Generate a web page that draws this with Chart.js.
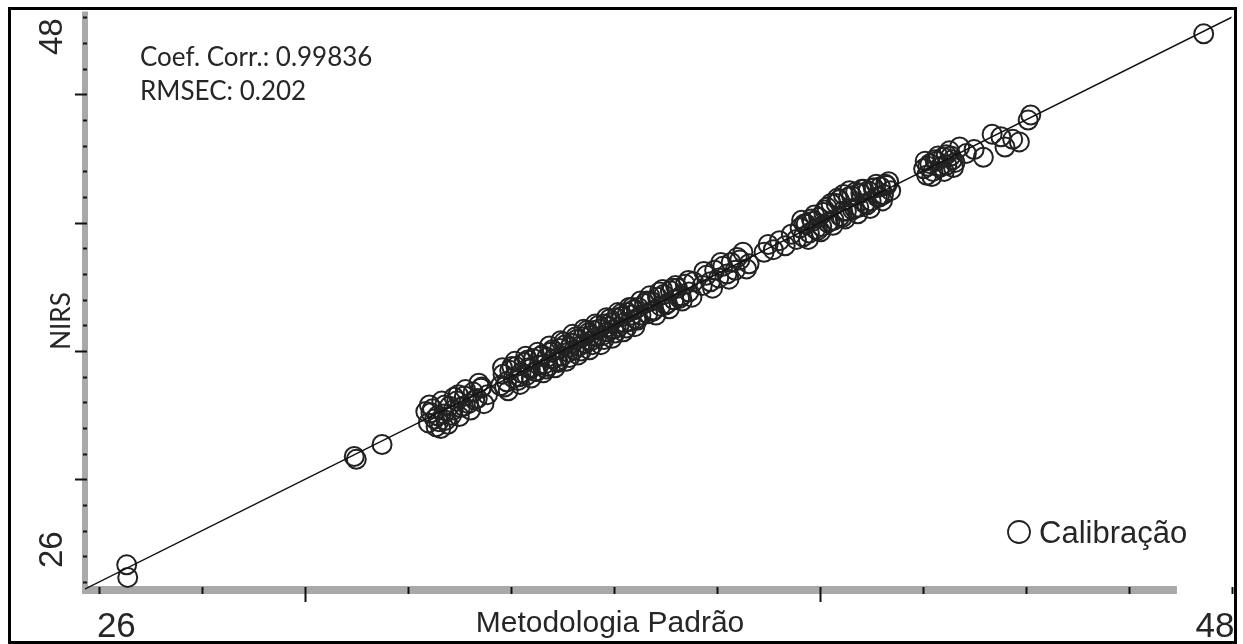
<!DOCTYPE html>
<html>
<head>
<meta charset="utf-8">
<title>Calibração NIRS</title>
<script src="https://cdn.jsdelivr.net/npm/chart.js@4.4.1/dist/chart.umd.min.js"></script>
<style>
  html, body { margin: 0; padding: 0; background: #fff; }
  #chart { display: block; }
</style>
</head>
<body>
<canvas id="chart" width="1243" height="644"></canvas>
<script>
// reference values (Metodologia Padrão)
const refValues = [
  26.54, 26.56,
  30.96, 31.00, 31.50,
  32.35, 32.40, 32.45, 32.52, 32.58, 32.64, 32.70, 32.74, 32.81, 32.88, 32.95, 33.02, 33.10, 33.18, 33.27, 33.35, 33.44, 33.55,
  33.80, 33.85, 33.92, 33.98, 34.05, 34.10, 34.14, 34.20, 34.26, 34.31, 34.38, 34.44, 34.50, 34.55, 34.61, 34.66, 34.72,
  34.78, 34.83, 34.89, 34.95, 35.00, 35.06, 35.12, 35.18, 35.23, 35.28, 35.34, 35.40, 35.45, 35.50, 35.56, 35.61, 35.67,
  35.72, 35.78, 35.83, 35.88, 35.94, 36.00, 36.05, 36.10, 36.16, 36.21, 36.27, 36.32, 36.38, 36.43, 36.48, 36.53,
  36.60, 36.66, 36.72, 36.78, 36.85, 36.91, 36.97, 37.04, 37.10, 37.17, 37.24, 37.31, 37.39, 37.46, 37.55,
  37.72, 37.80, 37.88, 37.96, 38.04, 38.12, 38.20, 38.28, 38.36, 38.45, 38.51, 38.63,
  38.92, 39.00, 39.10, 39.22, 39.33, 39.45, 39.55,
  39.62, 39.68, 39.74, 39.80, 39.86, 39.92, 39.98, 40.04, 40.10, 40.16, 40.22, 40.28, 40.34, 40.40, 40.46,
  40.52, 40.58, 40.64, 40.70, 40.76, 40.82, 40.88, 40.94, 41.00, 41.06, 41.12, 41.18, 41.24, 41.30, 41.38,
  42.02, 42.08, 42.14, 42.20, 42.27, 42.33, 42.40, 42.47, 42.55, 42.63,
  42.72, 42.85, 43.00, 43.18, 43.35, 43.52, 43.60, 43.75, 43.88, 44.05, 44.10,
  47.46,
  // samples further from the line inside the dense groups
  32.42, 32.55, 32.66, 32.78, 32.90, 33.00, 33.12, 33.22, 33.38, 33.48,
  33.84, 33.95, 34.08, 34.18, 34.29, 34.40, 34.52, 34.63, 34.75, 34.86, 34.97, 35.08, 35.20, 35.31, 35.42,
  35.53, 35.64, 35.75, 35.86, 35.97, 36.08, 36.19, 36.30, 36.41, 36.52, 36.35, 35.15, 34.35, 35.90, 34.70,
  36.70, 36.82, 36.95, 37.08, 37.20, 37.33, 37.45, 37.52,
  37.75, 37.92, 38.08, 38.24, 38.40, 38.58,
  39.65, 39.78, 39.90, 40.02, 40.14, 40.26, 40.38, 40.50, 40.62, 40.74, 40.86, 40.98, 41.10, 41.22, 41.34, 40.45,
  42.05, 42.18, 42.30, 42.42, 42.52, 42.60,
  // more overlapping samples in the dark groups
  32.48, 32.60, 32.85, 32.98, 33.08, 33.30, 33.42, 32.72,
  33.88, 34.02, 34.16, 34.33, 34.47, 34.58, 34.69, 34.81, 34.92, 35.03, 35.14, 35.26,
  35.37, 35.48, 35.59, 35.70, 35.81, 35.92, 36.03, 36.14, 36.25, 36.36, 36.46, 35.55,
  36.64, 36.76, 36.89, 37.01, 37.14, 37.28,
  39.70, 39.84, 39.96, 40.08, 40.20, 40.32, 40.44, 40.56, 40.68, 40.80, 40.92, 41.04, 41.16, 41.28,
  42.10, 42.24, 42.36, 42.46, 42.58
];

// predicted values (NIRS), same order
const nirsValues = [
  26.67, 26.18,
  30.89, 30.78, 31.36,
  32.64, 32.20, 32.60, 32.35, 32.48, 31.98, 32.55, 32.30, 32.85, 32.70, 33.05, 32.80, 33.25, 32.95, 33.40, 33.15, 33.60, 33.30,
  33.65, 34.10, 33.80, 34.25, 33.95, 34.40, 33.85, 34.15, 34.55, 34.05, 34.30, 34.70, 34.20, 34.45, 34.85, 34.50, 34.40,
  34.95, 34.70, 34.60, 35.10, 34.80, 35.25, 34.95, 35.30, 35.05, 35.45, 35.20, 35.55, 35.30, 35.70, 35.40, 35.80, 35.55,
  35.85, 35.60, 36.05, 35.75, 36.10, 35.85, 36.30, 35.95, 36.35, 36.10, 36.50, 36.15, 36.60, 36.25, 36.70, 36.40,
  36.85, 36.45, 36.95, 36.60, 37.10, 36.75, 37.20, 36.85, 37.35, 37.00, 37.45, 37.15, 37.60, 37.30, 37.70,
  37.55, 37.95, 37.70, 38.15, 37.85, 38.30, 38.00, 38.45, 38.15, 38.55, 38.85, 38.40,
  38.85, 39.15, 38.95, 39.30, 39.10, 39.55, 39.35,
  39.80, 39.45, 39.95, 39.60, 40.05, 39.75, 40.20, 39.85, 40.50, 40.00, 40.75, 40.10, 40.95, 40.25, 41.10,
  40.45, 41.25, 40.50, 41.20, 40.60, 41.30, 40.75, 41.25, 40.85, 41.35, 41.00, 41.40, 41.10, 41.45, 41.25,
  42.10, 41.85, 42.30, 42.00, 42.40, 42.15, 42.55, 42.25, 42.60, 42.35,
  42.95, 42.70, 42.85, 42.55, 43.45, 43.35, 42.95, 43.25, 43.15, 44.00, 44.20,
  47.36,
  32.90, 32.05, 33.05, 32.15, 33.20, 32.45, 33.50, 32.70, 33.75, 32.95,
  34.35, 33.45, 34.60, 33.70, 34.80, 33.95, 34.95, 34.15, 35.20, 34.35, 35.40, 34.60, 35.65, 34.85, 35.85,
  35.05, 36.05, 35.25, 36.30, 35.50, 36.50, 35.75, 36.70, 35.95, 36.95, 36.40, 35.15, 34.35, 35.95, 34.75,
  37.15, 36.40, 37.40, 36.65, 37.55, 36.95, 37.75, 37.10,
  38.10, 37.45, 38.45, 37.80, 38.65, 38.20,
  40.10, 39.35, 40.30, 39.65, 40.60, 39.90, 40.90, 40.15, 41.05, 40.35, 41.30, 40.55, 41.50, 40.85, 41.60, 40.45,
  42.40, 41.80, 42.60, 42.00, 42.80, 42.15,
  32.75, 32.25, 32.50, 33.30, 32.85, 33.10, 33.55, 32.90,
  33.60, 34.40, 34.00, 34.65, 34.20, 34.80, 34.30, 35.05, 34.55, 35.35, 34.75, 35.55,
  35.00, 35.80, 35.25, 36.00, 35.45, 36.25, 35.70, 36.45, 35.90, 36.70, 36.20, 35.60,
  36.95, 36.55, 37.30, 36.80, 37.45, 37.05,
  39.95, 40.15, 39.70, 40.40, 40.05, 40.75, 40.20, 41.00, 40.55, 41.15, 40.70, 41.35, 41.00, 41.50,
  42.20, 42.45, 42.20, 42.65, 42.45
];

// y = x reference line
const fitLine = [25.7, 48.3];

// axis ticks
const xTicks = [26, 28, 30, 32, 34, 36, 38, 40, 42, 44, 46, 48];
const xMajorTicks = [30, 40];
const yTicks = [26, 27, 28, 29, 30, 31, 32, 33, 34, 35, 36, 37, 38, 39, 40, 41, 42, 43, 44, 45, 46, 47, 48];
const yMajorTicks = [30, 35, 40, 45];
const xTickLabels = ['26', '48'];
const yTickLabels = ['26', '48'];

const statLines = ['Coef. Corr.: 0.99836', 'RMSEC: 0.202'];
const seriesName = 'Calibração';

const points = refValues.map((v, i) => ({ x: v, y: nirsValues[i] }));
const linePoints = fitLine.map(v => ({ x: v, y: v }));

const textColor = '#262626';
const axisGray = '#a9a9a9';

// axes, ticks, labels, legend and frame
const decorations = {
  id: 'decorations',
  beforeDatasetsDraw(chart) {
    const ctx = chart.ctx;
    const xs = chart.scales.x;
    const ys = chart.scales.y;
    const area = chart.chartArea;
    ctx.save();

    // gray axis bars
    ctx.strokeStyle = axisGray;
    ctx.lineWidth = 6;
    ctx.beginPath();
    ctx.moveTo(area.left, area.top);
    ctx.lineTo(area.left, area.bottom + 4);
    ctx.stroke();
    ctx.lineWidth = 8;
    ctx.beginPath();
    ctx.moveTo(area.left - 3, area.bottom);
    ctx.lineTo(xs.getPixelForValue(46.94), area.bottom);
    ctx.stroke();

    // ticks
    ctx.strokeStyle = '#111';
    ctx.lineWidth = 2;
    yTicks.forEach(t => {
      const py = Math.round(ys.getPixelForValue(t)) + 0.5;
      const major = yMajorTicks.includes(t);
      ctx.beginPath();
      ctx.moveTo(area.left - (major ? 10 : 2), py);
      ctx.lineTo(area.left + 2, py);
      ctx.stroke();
    });
    xTicks.forEach(t => {
      const px = Math.round(xs.getPixelForValue(t)) + 0.5;
      const major = xMajorTicks.includes(t);
      ctx.beginPath();
      ctx.moveTo(px, area.bottom - 3);
      ctx.lineTo(px, area.bottom + (major ? 12 : 4));
      ctx.stroke();
    });
    ctx.restore();
  },
  afterDatasetsDraw(chart) {
    const ctx = chart.ctx;
    const xs = chart.scales.x;
    const ys = chart.scales.y;
    ctx.save();
    ctx.fillStyle = textColor;

    // stats text
    ctx.font = '26px Lato';
    ctx.textAlign = 'left';
    ctx.textBaseline = 'alphabetic';
    ctx.fillText(statLines[0], 140, 66);
    ctx.fillText(statLines[1], 140, 100);

    // x tick labels and title
    ctx.font = '35px "Liberation Sans"';
    ctx.textAlign = 'left';
    ctx.fillText(xTickLabels[0], xs.getPixelForValue(26) - 2, 637);
    ctx.textAlign = 'right';
    ctx.fillText(xTickLabels[1], xs.getPixelForValue(48) + 3, 637);
    ctx.font = '30px "Liberation Sans"';
    ctx.textAlign = 'center';
    ctx.fillText('Metodologia Padrão', 610, 632);

    // y tick labels and title (rotated)
    ctx.save();
    ctx.translate(62, 0);
    ctx.rotate(-Math.PI / 2);
    ctx.font = '33px "Liberation Sans"';
    ctx.textAlign = 'left';
    ctx.fillText(yTickLabels[0], -(ys.getPixelForValue(26) - 14), 0);
    ctx.textAlign = 'right';
    ctx.fillText(yTickLabels[1], -(ys.getPixelForValue(48) + 1), 0);
    ctx.restore();
    ctx.save();
    ctx.translate(70, 321);
    ctx.rotate(-Math.PI / 2);
    ctx.font = '26px Lato';
    ctx.textAlign = 'center';
    ctx.fillText('NIRS', 0, 0);
    ctx.restore();

    // legend
    ctx.strokeStyle = '#222';
    ctx.lineWidth = 1.8;
    ctx.beginPath();
    ctx.arc(1019, 532, 11, 0, Math.PI * 2);
    ctx.stroke();
    ctx.font = '31px "Liberation Sans"';
    ctx.textAlign = 'left';
    ctx.fillText(seriesName, 1039, 543);

    // outer frame
    ctx.strokeStyle = '#000';
    ctx.lineWidth = 3;
    ctx.strokeRect(9.5, 8.5, 1226, 634);
    ctx.restore();
  }
};

new Chart(document.getElementById('chart').getContext('2d'), {
  type: 'scatter',
  data: {
    datasets: [
      {
        label: 'y = x',
        data: linePoints,
        showLine: true,
        borderColor: '#111',
        borderWidth: 1.5,
        pointRadius: 0,
        fill: false
      },
      {
        label: seriesName,
        data: points,
        pointStyle: 'circle',
        pointRadius: 9.5,
        pointBorderWidth: 2,
        pointBorderColor: '#222',
        pointBackgroundColor: 'rgba(255,255,255,0)',
        showLine: false
      }
    ]
  },
  options: {
    responsive: false,
    animation: false,
    layout: { padding: { left: 85, right: 8, top: 8, bottom: 54 } },
    scales: {
      x: { type: 'linear', display: false, min: 25.73, max: 48 },
      y: { type: 'linear', display: false, min: 25.69, max: 48.23 }
    },
    plugins: {
      legend: { display: false },
      tooltip: { enabled: false }
    }
  },
  plugins: [decorations]
});
</script>
</body>
</html>
